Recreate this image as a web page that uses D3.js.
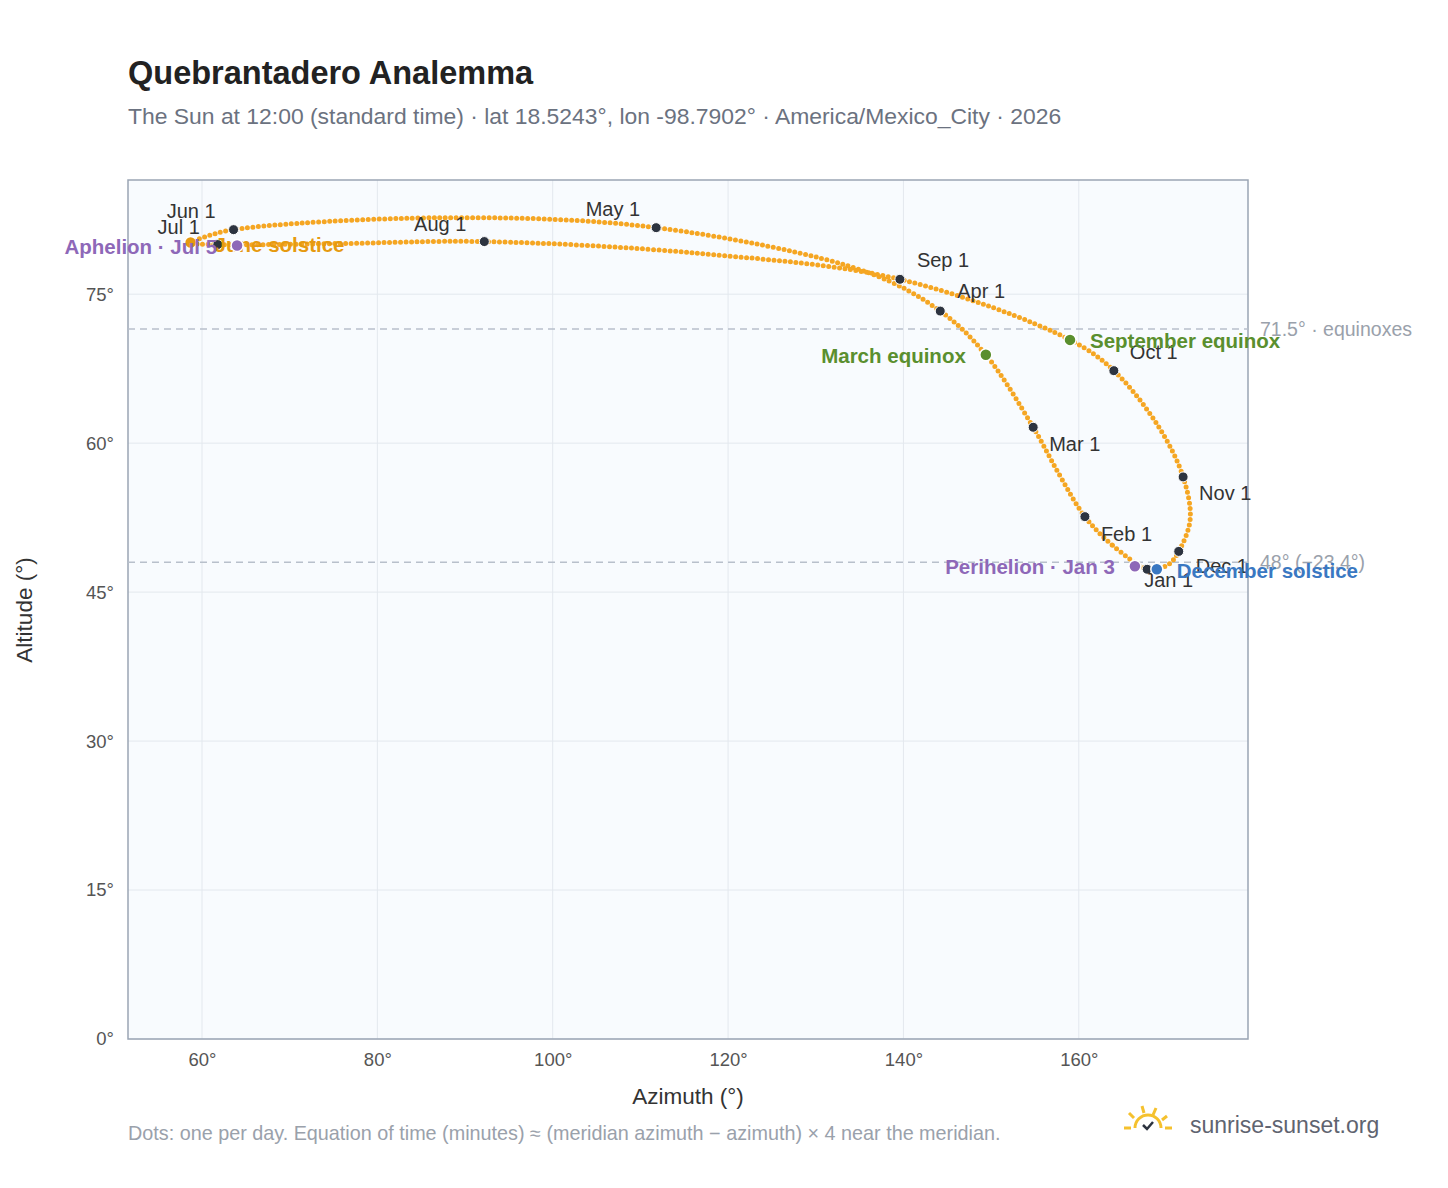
<!DOCTYPE html>
<html><head><meta charset="utf-8">
<script src="https://cdn.jsdelivr.net/npm/d3@7"></script>
<style>body{margin:0;background:#fff;font-family:"Liberation Sans",Arial,sans-serif}</style>
</head><body><svg id="c" width="1448" height="1188"></svg>
<script>
// sun position at 12:00 local standard time
var pathDates = ["Jan 1","Jan 15","Feb 1","Feb 15","Mar 1","Mar 20","Apr 1","Apr 15","May 1","May 15","Jun 1","Jun 10","Jun 21","Jul 1","Jul 15","Aug 1","Aug 15","Sep 1","Sep 22","Oct 1","Oct 15","Nov 1","Nov 15","Dec 1","Dec 10","Dec 21"];
var pathAz  = [167.8,163.8,160.7,157.8,154.8,149.4,144.2,135.9,111.8,87.1,63.6,60.1,58.7,61.8,75.7,92.2,116.8,139.6,159.0,164.0,169.0,171.9,172.7,171.4,170.4,168.9];
var pathAlt = [47.3,49.75,52.6,56.8,61.6,68.9,73.3,77.2,81.7,82.7,81.5,80.7,80.2,80.0,80.1,80.3,79.1,76.5,70.4,67.3,61.8,56.6,52.3,49.1,47.9,47.3];

var months   = ["Jan 1","Feb 1","Mar 1","Apr 1","May 1","Jun 1","Jul 1","Aug 1","Sep 1","Oct 1","Nov 1","Dec 1"];
var monthAz  = [167.8,160.7,154.8,144.2,111.8,63.6,61.8,92.2,139.6,164.0,171.9,171.4];
var monthAlt = [47.3,52.6,61.6,73.3,81.7,81.5,80.0,80.3,76.5,67.3,56.6,49.1];

var events   = ["March equinox","September equinox","June solstice","December solstice","Aphelion · Jul 5","Perihelion · Jan 3"];
var eventAz  = [149.4,159.0,58.7,168.9,64.0,166.4];
var eventAlt = [68.9,70.4,80.2,47.3,79.9,47.6];
var eventCol = ["#5a8f2e","#5a8f2e","#e69a10","#3a78c2","#8e68b8","#8e68b8"];

var refAlt = [71.5, 48];
var refText = ["71.5° · equinoxes","48° (−23.4°)"];
var xTicks = [60,80,100,120,140,160];
var yTicks = [0,15,30,45,60,75];

var svg = d3.select("#c");
var x = d3.scaleLinear().domain([51.56,179.3]).range([128,1248]);
var y = d3.scaleLinear().domain([0,86.5]).range([1039,180]);

svg.append("text").attr("x",128).attr("y",84).text("Quebrantadero Analemma")
  .style("font-size","32.5px").style("font-weight","bold").attr("fill","#222");
svg.append("text").attr("x",128).attr("y",124)
  .text("The Sun at 12:00 (standard time) · lat 18.5243°, lon -98.7902° · America/Mexico_City · 2026")
  .style("font-size","22.9px").attr("fill","#6b7280");

svg.append("rect").attr("x",128).attr("y",180).attr("width",1120).attr("height",859).attr("fill","#f8fbfe");

svg.append("g").selectAll("line").data(xTicks).join("line")
  .attr("x1",d=>x(d)).attr("x2",d=>x(d)).attr("y1",180).attr("y2",1039).attr("stroke","#e3e8ee");
svg.append("g").selectAll("line").data(yTicks).join("line")
  .attr("y1",d=>y(d)).attr("y2",d=>y(d)).attr("x1",128).attr("x2",1248).attr("stroke","#e3e8ee");

var xa = svg.append("g").attr("transform","translate(0,1039)")
  .call(d3.axisBottom(x).tickValues(xTicks).tickFormat(d=>d+"°").tickSize(0).tickPadding(14));
var ya = svg.append("g").attr("transform","translate(128,0)")
  .call(d3.axisLeft(y).tickValues(yTicks).tickFormat(d=>d+"°").tickSize(0).tickPadding(14));
[xa,ya].forEach(function(a){a.select(".domain").remove();
  a.selectAll("text").style("font-size","18.5px").attr("fill","#555").style("font-family","Liberation Sans, Arial")});

svg.append("rect").attr("x",128).attr("y",180).attr("width",1120).attr("height",859)
  .attr("fill","none").attr("stroke","#9aa5b4").attr("stroke-width",1.5);

svg.append("text").attr("x",688).attr("y",1104).attr("text-anchor","middle").text("Azimuth (°)")
  .style("font-size","22.5px").attr("fill","#333");
svg.append("text").attr("transform","translate(32,610) rotate(-90)").attr("text-anchor","middle")
  .text("Altitude (°)").style("font-size","22.5px").attr("fill","#333");

// reference lines
refAlt.forEach(function(a,i){
  svg.append("line").attr("x1",128).attr("x2",1248).attr("y1",y(a)).attr("y2",y(a))
    .attr("stroke","#b8c0cb").attr("stroke-width",1.5).attr("stroke-dasharray","7,5");
  svg.append("text").attr("x",1260).attr("y",y(a)+7).text(refText[i])
    .style("font-size","19.5px").attr("fill","#9aa1ab");
});

// analemma
var pts = pathAz.map((a,i)=>[x(a),y(pathAlt[i])]);
var line = d3.line().curve(d3.curveCatmullRomClosed.alpha(0.5));
svg.append("path").attr("d",line(pts)).attr("fill","none").attr("stroke","#f5a623")
  .attr("stroke-width",5).attr("stroke-linecap","round").attr("stroke-dasharray","0,5.5");

// month markers
var lblOff = {"Jan 1":[-3,18,"start"],"Feb 1":[16,24,"start"],"Mar 1":[16,24,"start"],"Apr 1":[17,-13,"start"],
  "May 1":[-16,-12,"end"],"Jun 1":[-18,-12,"end"],"Jul 1":[-18,-11,"end"],"Aug 1":[-18,-11,"end"],
  "Sep 1":[17,-12,"start"],"Oct 1":[16,-12,"start"],"Nov 1":[16,23,"start"],"Dec 1":[17,22,"start"]};
months.forEach(function(m,i){
  svg.append("circle").attr("cx",x(monthAz[i])).attr("cy",y(monthAlt[i])).attr("r",5)
    .attr("fill","#2d3440").attr("stroke","#fff").attr("stroke-width",1);
  var o = lblOff[m];
  svg.append("text").attr("x",x(monthAz[i])+o[0]).attr("y",y(monthAlt[i])+o[1]).attr("text-anchor",o[2])
    .text(m).style("font-size","20px").attr("fill","#333");
});

// events
var evOff = [[-20,8,"end"],[20,8,"start"],[24,9,"start"],[20,9,"start"],[-20,8,"end"],[-20,8,"end"]];
events.forEach(function(e,i){
  svg.append("circle").attr("cx",x(eventAz[i])).attr("cy",y(eventAlt[i])).attr("r",6)
    .attr("fill",eventCol[i]).attr("stroke","#fff").attr("stroke-width",1.5);
  svg.append("text").attr("x",x(eventAz[i])+evOff[i][0]).attr("y",y(eventAlt[i])+evOff[i][1])
    .attr("text-anchor",evOff[i][2]).text(e).style("font-size","20.5px").style("font-weight","bold")
    .attr("fill",eventCol[i]);
});

svg.append("text").attr("x",128).attr("y",1140)
  .text("Dots: one per day. Equation of time (minutes) ≈ (meridian azimuth − azimuth) × 4 near the meridian.")
  .style("font-size","19.8px").attr("fill","#9aa1ab");

// logo
var lg = svg.append("g").attr("transform","translate(1148,1130)");
[[-24,-2,-17,-2],[-19,-17,-14,-12],[-6,-24,-4,-17],[8,-22,5,-15],[19,-14,14,-10],[24,-2,17,-2]].forEach(function(s){
  lg.append("line").attr("x1",s[0]).attr("y1",s[1]).attr("x2",s[2]).attr("y2",s[3])
    .attr("stroke","#f5c12e").attr("stroke-width",3);});
lg.append("path").attr("d","M-13,-2 A13,13 0 0 1 13,-2").attr("fill","none").attr("stroke","#f5c12e").attr("stroke-width",3);
lg.append("path").attr("d","M-5,-5 L-1,-1 L5,-8").attr("fill","none").attr("stroke","#2d3440").attr("stroke-width",2.5);
svg.append("text").attr("x",1190).attr("y",1133).text("sunrise-sunset.org").style("font-size","23px").attr("fill","#5f6470");
</script></body></html>
